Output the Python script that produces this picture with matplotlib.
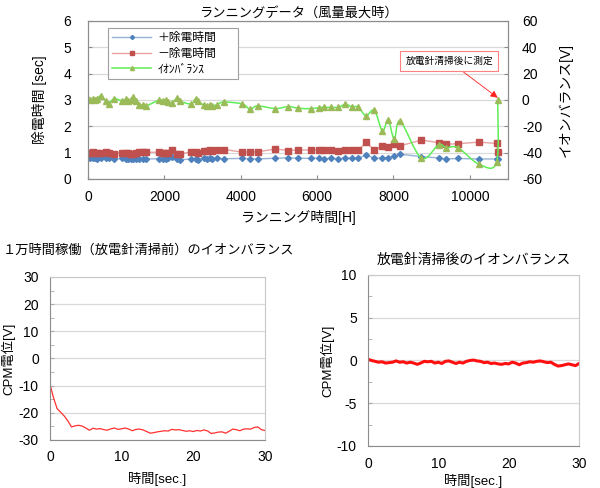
"""Running data chart: discharge times + ion balance, with two CPM traces."""
import matplotlib

matplotlib.use("Agg")
import matplotlib.pyplot as plt
from matplotlib.path import Path
from matplotlib.patches import PathPatch
from matplotlib.ticker import MultipleLocator

# --- running data (top chart) ---
hours = [0, 60, 120, 180, 240, 330, 480, 540, 680, 880, 1000, 1060, 1120, 1180,
         1250, 1340, 1440, 1520, 1870, 1960, 2030, 2100, 2200, 2340, 2420, 2700,
         2820, 2880, 3040, 3120, 3200, 3260, 3380, 3560, 4040, 4240, 4440, 4910,
         5250, 5500, 5840, 6040, 6170, 6360, 6560, 6740, 6910, 7080, 7280, 7500,
         7710, 7860, 8020, 8180, 8730, 9180, 9380, 9690, 10230, 10700, 10730]
plus_time = [0.78, 0.79, 0.78, 0.80, 0.77, 0.78, 0.80, 0.78, 0.76, 0.78, 0.77, 0.76,
             0.76, 0.75, 0.77, 0.76, 0.77, 0.76, 0.77, 0.76, 0.77, 0.78, 0.84, 0.76,
             0.73, 0.76, 0.77, 0.73, 0.80, 0.77, 0.78, 0.76, 0.78, 0.77, 0.78, 0.77,
             0.76, 0.79, 0.80, 0.79, 0.78, 0.80, 0.77, 0.79, 0.77, 0.80, 0.78, 0.79,
             0.91, 0.79, 0.79, 0.81, 0.86, 0.94, 0.85, 0.80, 0.76, 0.78, 0.76, 0.76,
             0.76]
minus_time = [1.00, 0.98, 1.01, 0.99, 0.97, 0.98, 1.03, 0.99, 0.95, 1.00, 0.99, 0.97,
              0.96, 0.94, 1.00, 1.01, 1.02, 1.01, 1.02, 1.00, 0.99, 0.98, 1.10, 0.96,
              0.96, 1.02, 1.04, 0.99, 1.08, 1.08, 1.12, 1.06, 1.11, 1.12, 1.02, 1.03,
              1.03, 1.14, 1.08, 1.10, 1.10, 1.12, 1.09, 1.10, 1.08, 1.10, 1.10, 1.10,
              1.39, 1.10, 1.25, 1.21, 1.34, 1.26, 1.48, 1.38, 1.32, 1.34, 1.40, 1.35,
              1.04]
ion_balance = [0.5, 0.0, 0.5, 0.0, 0.8, 3.0, -1.0, -3.0, 1.0, -0.5, 0.5, -1.0, 0.0,
               2.5, -0.5, -4.0, -3.5, -4.5, 0.0, -1.0, 0.0, -1.5, -2.0, 1.5, -1.0,
               -3.0, 1.0, -1.0, -4.0, -4.5, -4.0, -4.5, -3.5, -1.5, -3.0, -7.0, -4.5,
               -6.5, -5.0, -6.2, -6.6, -5.8, -5.6, -5.6, -5.6, -3.2, -5.2, -5.4,
               -12.0, -7.8, -23.6, -15.0, -29.6, -16.2, -44.2, -34.0, -36.2, -36.2,
               -48.6, -47.4, 0.2]

# --- CPM traces (bottom charts), sampled every 0.5 s ---
t_sec = [i * 0.5 for i in range(61)]
cpm_before = [-9.5, -14.5, -18.5, -19.8, -21.2, -23.0, -25.2, -24.8, -24.6, -24.9,
              -25.6, -26.4, -25.7, -26.0, -25.8, -26.2, -26.4, -25.9, -25.6, -26.1,
              -25.9, -25.6, -26.0, -26.6, -26.1, -26.0, -26.3, -26.9, -27.5, -27.3,
              -27.0, -26.8, -26.6, -26.7, -26.1, -26.3, -26.2, -26.5, -26.8, -26.6,
              -26.9, -26.5, -26.7, -26.3, -26.7, -27.6, -27.4, -27.1, -27.0, -27.5,
              -26.8, -26.0, -26.2, -26.6, -26.0, -25.9, -26.0, -25.4, -25.2, -26.2,
              -26.5]
cpm_after = [0.15, 0.0, -0.1, -0.2, -0.15, -0.3, -0.25, -0.2, -0.05, -0.2, -0.15,
             -0.3, -0.2, -0.3, -0.45, -0.3, -0.1, -0.15, -0.1, -0.3, -0.2, -0.35,
             -0.1, -0.05, -0.2, -0.35, -0.2, -0.3, -0.1, 0.0, 0.05, -0.05, -0.1,
             -0.25, -0.2, -0.35, -0.3, -0.4, -0.45, -0.35, -0.4, -0.2, -0.3, -0.5,
             -0.3, -0.25, -0.15, -0.2, -0.1, -0.05, -0.15, -0.25, -0.2, -0.45, -0.65,
             -0.6, -0.5, -0.4, -0.5, -0.6, -0.35]

plt.rcParams["font.family"] = ["Liberation Sans", "Noto Sans CJK JP"]
plt.rcParams["axes.unicode_minus"] = False

GRID = "#d9d9d9"
FRAME = "#8c8c8c"


def smooth_path(xs, ys):
    """Catmull-Rom style bezier through the points (like Excel smoothed lines)."""
    verts = [(xs[0], ys[0])]
    codes = [Path.MOVETO]
    n = len(xs)
    for i in range(n - 1):
        x0, y0 = (xs[i - 1], ys[i - 1]) if i > 0 else (xs[i], ys[i])
        x1, y1 = xs[i], ys[i]
        x2, y2 = xs[i + 1], ys[i + 1]
        x3, y3 = (xs[i + 2], ys[i + 2]) if i + 2 < n else (x2, y2)
        c1 = (x1 + (x2 - x0) / 6, y1 + (y2 - y0) / 6)
        c2 = (x2 - (x3 - x1) / 6, y2 - (y3 - y1) / 6)
        verts += [c1, c2, (x2, y2)]
        codes += [Path.CURVE4] * 3
    return Path(verts, codes)


def style_cpm(ax, ylim, major, minor):
    ax.set_xlim(0, 30)
    ax.set_ylim(*ylim)
    ax.xaxis.set_major_locator(MultipleLocator(10))
    ax.yaxis.set_major_locator(MultipleLocator(major))
    ax.yaxis.set_minor_locator(MultipleLocator(minor))
    ax.grid(axis="y", color=GRID, lw=0.9)
    ax.set_axisbelow(True)
    for side in ("left", "bottom"):
        ax.spines[side].set_color(FRAME)
    for side in ("top", "right"):
        ax.spines[side].set_color("#c8c8c8")
    ax.tick_params(axis="y", which="both", direction="in", length=3, color="#aaaaaa",
                   labelsize=10, pad=8)
    ax.tick_params(axis="x", length=0, labelsize=10, pad=7)
    ax.set_xlabel("時間[sec.]", fontsize=9.5, labelpad=6)
    ax.set_ylabel("CPM電位[V]", fontsize=9.5, labelpad=2)


def main() -> None:
    fig = plt.figure(figsize=(6, 4.88), dpi=100)

    # top chart
    ax = fig.add_axes([0.1467, 0.6332, 0.70, 0.3238])
    ax2 = ax.twinx()
    ax.set_xlim(0, 11000)
    ax.set_ylim(0, 6)
    ax2.set_ylim(-60, 60)
    ax.xaxis.set_major_locator(MultipleLocator(2000))
    ax.yaxis.set_major_locator(MultipleLocator(1))
    ax2.yaxis.set_major_locator(MultipleLocator(20))
    ax.grid(axis="y", color=GRID, lw=0.9)
    ax.set_axisbelow(True)
    for a in (ax, ax2):
        for sp in a.spines.values():
            sp.set_color(FRAME)
    ax.tick_params(axis="y", direction="in", length=3, color=FRAME, labelsize=10, pad=12)
    ax.tick_params(axis="x", direction="in", length=3, color=FRAME, labelsize=10, pad=8)
    ax2.tick_params(direction="in", length=3, color=FRAME, labelsize=10, pad=10)

    blue_line, = ax.plot(hours, plus_time, color="#95b3d7", lw=1,
                         marker="D", ms=3, mfc="#4f81bd", mec="#4f81bd")
    red_line, = ax.plot(hours, minus_time, color="#e6a3a1", lw=1,
                        marker="s", ms=4.2, mfc="#c0504d", mec="#c0504d")
    ax2.add_patch(PathPatch(smooth_path(hours, ion_balance), fill=False,
                            edgecolor="#5fee55", lw=1.1))
    ax2.plot(hours, ion_balance, ls="none",
             marker="^", ms=4.2, mfc="#9bbb59", mec="#9bbb59")
    legend_green = plt.Line2D([], [], color="#5fee55", lw=1.1,
                              marker="^", ms=4.2, mfc="#9bbb59", mec="#9bbb59")

    leg = ax2.legend([blue_line, red_line, legend_green],
                     ["＋除電時間", "－除電時間", "ｲｵﾝﾊﾞﾗﾝｽ"],
                     loc="upper left", bbox_to_anchor=(0.048, 0.955, 0.31, 0),
                     mode="expand", fontsize=8.5, fancybox=False,
                     edgecolor="#a0a0a0", markerscale=0.7,
                     handlelength=3.3, handletextpad=0.5, borderpad=0.35,
                     labelspacing=0.3, borderaxespad=0, framealpha=1)
    leg.get_frame().set_linewidth(0.8)

    ax2.annotate("放電針清掃後に測定", xy=(hours[-1], ion_balance[-1] + 1.5),
                 xytext=(0.86, 0.745), textcoords="axes fraction",
                 ha="center", va="center", fontsize=7,
                 bbox=dict(boxstyle="square,pad=0.5", fc="white", ec="#ff8080", lw=0.8),
                 arrowprops=dict(arrowstyle="-|>,head_length=0.6,head_width=0.3",
                                 color="#ff2020", lw=0.6, shrinkA=0, shrinkB=0))

    ax.set_title("ランニングデータ（風量最大時）", fontsize=9.5, pad=3)
    ax.set_xlabel("ランニング時間[H]", fontsize=10, labelpad=4)
    ax.set_ylabel("除電時間 [sec]", fontsize=10, labelpad=12)
    ax2.set_ylabel("イオンバランス[V]", fontsize=10, rotation=90, labelpad=12)

    # bottom left
    bl = fig.add_axes([0.0833, 0.0984, 0.3583, 0.334])
    bl.plot(t_sec, cpm_before, color="#ff3030", lw=0.9)
    style_cpm(bl, (-30, 30), 10, 5)
    fig.text(0.005, 0.487, "１万時間稼働（放電針清掃前）のイオンバランス",
             fontsize=9.5, ha="left", va="center")

    # bottom right
    br = fig.add_axes([0.6133, 0.0861, 0.3517, 0.3504])
    br.plot(t_sec, cpm_after, color="#ff1010", lw=2.2)
    style_cpm(br, (-10, 10), 5, 2.5)
    br.tick_params(axis="x", pad=8)
    br.xaxis.labelpad = 2
    br.set_title("放電針清掃後のイオンバランス", fontsize=10, pad=8)

    fig.savefig("out.png", dpi=100)


if __name__ == "__main__":
    main()
